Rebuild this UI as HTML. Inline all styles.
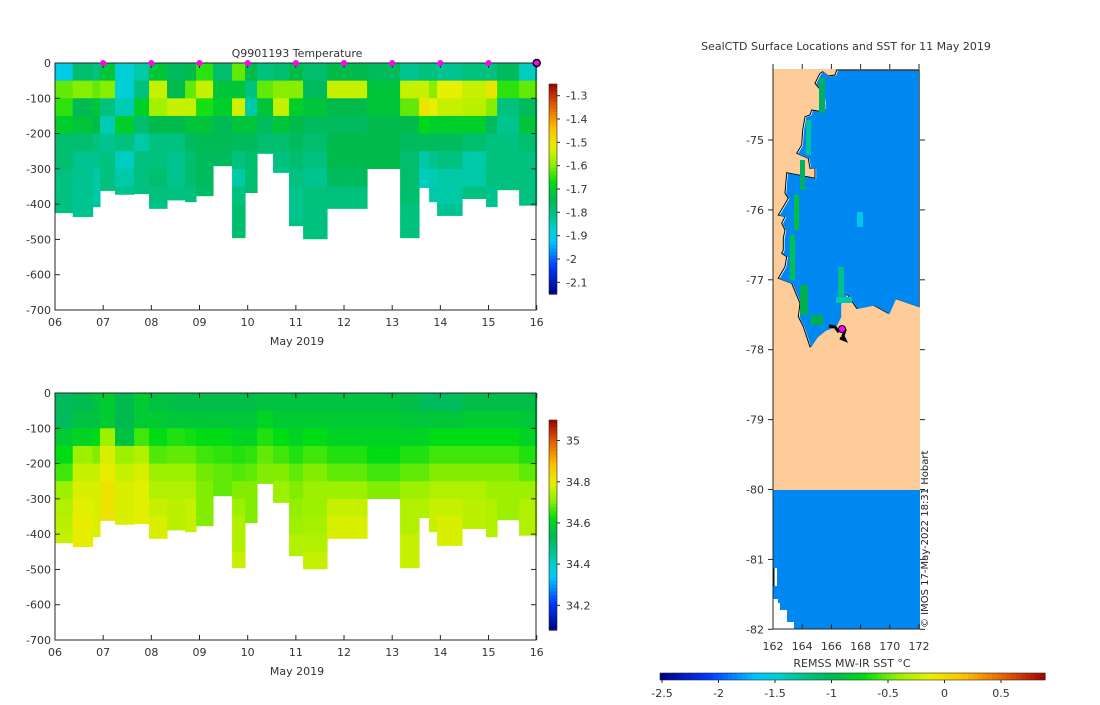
<!DOCTYPE html>
<html><head><meta charset="utf-8"><style>
body{margin:0;background:#fff;}
svg text{font-family:"DejaVu Sans","Liberation Sans",sans-serif;font-size:11px;fill:#333;}
</style></head><body>
<svg id="s" width="1100" height="700" xmlns="http://www.w3.org/2000/svg"></svg>
<script>
// ---------- DATA ----------
const colDays = [6,6.368,6.783,6.935,7.246,7.641,7.952,8.326,8.7,8.928,9.281,9.676,9.946,10.195,10.527,10.859,11.15,11.648,12.479,13.164,13.558,13.766,13.932,14.451,14.949,15.178,15.635,16];
const maxDepth = [424,435,407,361,372,370,412,388,393,376,291,495,367,256,310,461,498,412,299,495,353,393,432,384,407,359,403];
const layerEdges = [0,50,100,150,200,250,300,350,400,450,500];
const tempCols = [
[-1.9,-1.62,-1.65,-1.7,-1.78,-1.78,-1.8,-1.8,-1.8],
[-1.78,-1.6,-1.75,-1.72,-1.78,-1.82,-1.82,-1.82,-1.82],
[-1.8,-1.62,-1.72,-1.74,-1.8,-1.82,-1.84,-1.84,-1.82],
[-1.72,-1.6,-1.8,-1.85,-1.82,-1.8,-1.8,-1.8],
[-1.88,-1.88,-1.85,-1.7,-1.8,-1.86,-1.84,-1.82],
[-1.84,-1.8,-1.7,-1.78,-1.84,-1.8,-1.8,-1.8],
[-1.72,-1.55,-1.58,-1.74,-1.8,-1.8,-1.78,-1.8,-1.82],
[-1.76,-1.74,-1.55,-1.74,-1.8,-1.82,-1.82,-1.8],
[-1.74,-1.62,-1.55,-1.72,-1.76,-1.78,-1.78,-1.8],
[-1.65,-1.55,-1.66,-1.72,-1.75,-1.76,-1.76,-1.77],
[-1.78,-1.72,-1.7,-1.75,-1.75,-1.76],
[-1.62,-1.72,-1.54,-1.72,-1.76,-1.8,-1.84,-1.8,-1.78,-1.78],
[-1.74,-1.8,-1.84,-1.72,-1.76,-1.78,-1.78,-1.78],
[-1.8,-1.62,-1.72,-1.76,-1.78,-1.8],
[-1.78,-1.6,-1.55,-1.72,-1.78,-1.8,-1.82],
[-1.74,-1.6,-1.7,-1.74,-1.76,-1.78,-1.8,-1.82,-1.82,-1.8],
[-1.78,-1.76,-1.72,-1.76,-1.78,-1.8,-1.82,-1.8,-1.8,-1.8],
[-1.74,-1.55,-1.74,-1.76,-1.74,-1.74,-1.76,-1.8,-1.8],
[-1.76,-1.72,-1.72,-1.74,-1.74,-1.74,-1.8],
[-1.82,-1.55,-1.62,-1.74,-1.76,-1.78,-1.78,-1.78,-1.8,-1.8],
[-1.8,-1.55,-1.5,-1.68,-1.76,-1.84,-1.86,-1.86],
[-1.8,-1.6,-1.52,-1.7,-1.76,-1.82,-1.85,-1.84],
[-1.82,-1.52,-1.55,-1.7,-1.76,-1.8,-1.84,-1.84,-1.82],
[-1.8,-1.55,-1.56,-1.7,-1.78,-1.84,-1.84,-1.8],
[-1.8,-1.5,-1.6,-1.76,-1.8,-1.8,-1.8,-1.82,-1.82],
[-1.76,-1.65,-1.8,-1.82,-1.8,-1.8,-1.8,-1.8],
[-1.86,-1.62,-1.76,-1.72,-1.78,-1.8,-1.8,-1.8,-1.8]];
const salCols = [
[34.52,34.52,34.58,34.62,34.66,34.72,34.74,34.75,34.76],
[34.54,34.56,34.6,34.72,34.76,34.78,34.79,34.8,34.8],
[34.56,34.56,34.62,34.7,34.76,34.78,34.78,34.78,34.78],
[34.58,34.58,34.72,34.78,34.8,34.82,34.82,34.82],
[34.54,34.54,34.56,34.72,34.76,34.78,34.78,34.78],
[34.58,34.58,34.66,34.74,34.78,34.79,34.79,34.79],
[34.56,34.58,34.62,34.67,34.72,34.74,34.76,34.78,34.78],
[34.55,34.57,34.64,34.68,34.72,34.74,34.75,34.75],
[34.55,34.57,34.63,34.68,34.72,34.74,34.76,34.76],
[34.55,34.57,34.62,34.66,34.69,34.7,34.7,34.7],
[34.55,34.57,34.62,34.65,34.68,34.68],
[34.55,34.57,34.6,34.64,34.67,34.7,34.72,34.74,34.74,34.76],
[34.55,34.57,34.6,34.65,34.68,34.7,34.7,34.7],
[34.56,34.6,34.64,34.68,34.7,34.7],
[34.56,34.58,34.62,34.66,34.7,34.72,34.72],
[34.56,34.58,34.6,34.64,34.68,34.7,34.71,34.72,34.74,34.74],
[34.56,34.58,34.62,34.66,34.7,34.72,34.72,34.73,34.74,34.76],
[34.56,34.58,34.6,34.64,34.68,34.72,34.76,34.78,34.78],
[34.56,34.58,34.6,34.62,34.66,34.7,34.72],
[34.55,34.57,34.6,34.64,34.68,34.72,34.74,34.74,34.76,34.76],
[34.52,34.57,34.6,34.64,34.68,34.72,34.74,34.74],
[34.52,34.57,34.62,34.66,34.7,34.74,34.76,34.76],
[34.52,34.57,34.62,34.66,34.7,34.74,34.76,34.78,34.78],
[34.55,34.58,34.62,34.66,34.7,34.74,34.75,34.75],
[34.55,34.58,34.62,34.66,34.7,34.72,34.74,34.74,34.74],
[34.55,34.58,34.62,34.66,34.7,34.72,34.72,34.72],
[34.55,34.57,34.6,34.64,34.68,34.72,34.74,34.74,34.74]];
const markerDays = [7,8,9,10,11,12,13,14,15];
const dayTicks = ["06","07","08","09","10","11","12","13","14","15","16"];
const depthTicks = [0,-100,-200,-300,-400,-500,-600,-700];
const tempBarTicks = [-1.3,-1.4,-1.5,-1.6,-1.7,-1.8,-1.9,-2,-2.1];
const salBarTicks = [35,34.8,34.6,34.4,34.2];
const lonTicks = [162,164,166,168,170,172];
const latTicks = [-75,-76,-77,-78,-79,-80,-81,-82];
const sstTicks = [-2.5,-2,-1.5,-1,-0.5,0,0.5];

// ---------- helpers ----------
const NS="http://www.w3.org/2000/svg", S=document.getElementById('s');
function mk(tag,at,parent){const e=document.createElementNS(NS,tag);for(const k in at)e.setAttribute(k,at[k]);(parent||S).appendChild(e);return e;}
function txt(x,y,s,anchor,extra){const t=mk('text',Object.assign({x:x,y:y,'text-anchor':anchor||'start'},extra||{}));t.textContent=s;return t;}
const stops=[[0,[0,0,130]],[0.13,[0,60,255]],[0.25,[0,200,255]],[0.31,[0,208,205]],[0.37,[0,195,140]],[0.45,[0,185,80]],[0.53,[0,220,20]],[0.62,[150,240,0]],[0.7,[230,240,0]],[0.79,[255,190,0]],[0.9,[225,90,0]],[1,[160,0,0]]];
function cmap(t){t=Math.max(0,Math.min(1,t));for(let i=1;i<stops.length;i++){if(t<=stops[i][0]){const a=stops[i-1],b=stops[i],f=(t-a[0])/(b[0]-a[0]);return 'rgb('+a[1].map((v,j)=>Math.round(v+(b[1][j]-v)*f)).join(',')+')';}}return 'rgb(160,0,0)';}

function section(yTop,vals,vmin,vmax,prefix){
  const xs=d=>55+(d-6)*48.17, ys=m=>yTop+m*(247/700);
  const g=mk('g',{});
  
  
  for(let c=0;c<vals.length;c++){
    const x0=xs(colDays[c]),x1=xs(colDays[c+1]);
    for(let l=0;l<vals[c].length;l++){
      const d0=layerEdges[l],d1=Math.min(layerEdges[l+1],maxDepth[c]);
      if(d1<=d0)continue;
      const r=mk('rect',{x:x0,y:ys(d0),width:x1-x0+0.5,height:ys(d1)-ys(d0)+0.5,fill:cmap((vals[c][l]-vmin)/(vmax-vmin))},g);
      
      
    }
  }
  const bx=mk('rect',{x:55,y:yTop,width:481,height:247,fill:'none',stroke:'#262626','stroke-width':1});
  
  
  depthTicks.forEach(v=>{const y=ys(-v);mk('line',{x1:55,x2:60,y1:y,y2:y,stroke:'#262626'});mk('line',{x1:531,x2:536,y1:y,y2:y,stroke:'#262626'});
    const t=txt(51,y+4,String(v),'end');});
  dayTicks.forEach((s,i)=>{const x=xs(6+i);mk('line',{x1:x,x2:x,y1:yTop+247,y2:yTop+242,stroke:'#262626'});mk('line',{x1:x,x2:x,y1:yTop,y2:yTop+5,stroke:'#262626'});
    const t=txt(x,yTop+263,s,'middle');});
  const xl=txt(297,yTop+282,'May 2019','middle');
  return xs;
}
function colorbar(x,y0,y1,vmin,vmax,ticks,prefix){
  const n=60,h=(y1-y0)/n;
  for(let i=0;i<n;i++){const r=mk('rect',{x:x,y:y0+i*h,width:8,height:h+0.6,fill:cmap(1-(i+0.5)/n)});
    }
  mk('rect',{x:x,y:y0,width:8,height:y1-y0,fill:'none',stroke:'#262626','stroke-width':0.6});
  ticks.forEach(v=>{const y=y1-(v-vmin)/(vmax-vmin)*(y1-y0);mk('line',{x1:x+8,x2:x+11,y1:y,y2:y,stroke:'#262626'});
    const t=txt(x+17,y+4,String(v));});
}

// ---------- temperature ----------
const xsT=section(63,tempCols,-2.15,-1.25,'temperature');
const tt=txt(297,57,'Q9901193  Temperature','middle');
markerDays.forEach(d=>{const c=mk('circle',{cx:xsT(d),cy:63,r:3,fill:'#ff00ff'});});
const lm=mk('circle',{cx:xsT(16),cy:63,r:3.5,fill:'#ff00ff',stroke:'#000','stroke-width':1.5});
colorbar(549,84,294,-2.15,-1.25,tempBarTicks,'temperature');

// ---------- salinity ----------
section(393,salCols,34.08,35.1,'salinity');
colorbar(549,420,630,34.08,35.1,salBarTicks,'salinity');

// ---------- map ----------
const mx=lon=>773+(lon-162)*14.6, my=lat=>140+(-75-lat)*69.9;
const mt=txt(846,50,'SealCTD Surface Locations and SST for 11 May 2019','middle');
const land=mk('rect',{x:773,y:69,width:147,height:421,fill:'#fdcc99'});
const zp=[[290,60],[285,75],[265,78],[248,65],[240,70],[225,100],[250,130],[255,170],[245,185],[215,180],[210,195],[195,200],[188,240],[185,285],[170,310],[205,325],[210,355],[225,355],[225,385],[140,368],[135,430],[145,445],[130,470],[115,495],[135,500],[125,520],[135,540],[130,565],[130,600],[125,610],[140,620],[135,650],[115,685],[155,700],[180,760],[175,800],[190,830],[210,890],[230,860],[255,840],[285,830],[300,800],[300,760],[320,730],[350,775],[400,765],[445,790],[465,745],[537,770],[537,60]];
const pts=zp.map(p=>(740+p[0]/3).toFixed(1)+','+(50+p[1]/3).toFixed(1)).join(' ');
const wp=mk('polygon',{points:pts,fill:'#fff',stroke:'#000','stroke-width':1});
const oc=mk('polygon',{points:zp.map(p=>(Math.min(919,740+p[0]/3+1.2)).toFixed(1)+','+(50+p[1]/3+0.6).toFixed(1)).join(' '),fill:'#0088f2'});
[[819,78,6,35,'#00b060'],[806,120,5,35,'#00c0a0'],[800,160,5,30,'#00b060'],[794,195,5,35,'#00c040'],[790,235,5,45,'#00c050'],[800,285,8,30,'#00b050'],[811,315,12,10,'#00b050'],[836,297,16,6,'#00c8b0'],[838,267,6,30,'#00c090'],[857,212,6,15,'#00c8e0']].forEach(r=>{
  const e=mk('rect',{x:r[0],y:r[1],width:r[2],height:r[3],fill:r[4]});});
const so=mk('rect',{x:773,y:490,width:147,height:139,fill:'#0088f2'});
[[773,568,4,18],[773,599,5,30],[778,603,2,26],[780,610,7,19],[787,622,7,7]].forEach(r=>mk('rect',{x:r[0],y:r[1],width:r[2],height:r[3],fill:'#fff'}));
mk('line',{x1:774,x2:774,y1:568,y2:586,stroke:'#000','stroke-width':1});
const tr=mk('path',{d:'M829,326 L835,327 L838,331 L842,328 L845,330 L843,336 L845,340 L840,338',fill:'none',stroke:'#000','stroke-width':3});
const sd=mk('circle',{cx:842,cy:329,r:3.5,fill:'#ff00ff',stroke:'#000','stroke-width':1});
mk('line',{x1:773,x2:773,y1:69,y2:629,stroke:'#262626'});mk('line',{x1:773,x2:920,y1:629,y2:629,stroke:'#262626'});
lonTicks.forEach(v=>{const x=mx(v);mk('line',{x1:x,x2:x,y1:629,y2:624,stroke:'#262626'});mk('line',{x1:x,x2:x,y1:64,y2:69,stroke:'#262626'});
  const t=txt(x,650,String(v),'middle');});
latTicks.forEach(v=>{const y=my(v);mk('line',{x1:768,x2:773,y1:y,y2:y,stroke:'#262626'});mk('line',{x1:920,x2:925,y1:y,y2:y,stroke:'#262626'});
  const t=txt(764,y+4,String(v),'end');});
const cr=txt(0,0,'© IMOS 17-May-2022 18:31 Hobart','start',{transform:'translate(928,628) rotate(-90)',style:'font-size:10px;fill:#222'});

// SST colorbar
const sx=v=>662+(v+2.5)*113;
for(let i=0;i<80;i++){const x0=660+i*385/80;const e=mk('rect',{x:x0,y:673,width:385/80+0.6,height:7,fill:cmap((i+0.5)/80)});}
mk('rect',{x:660,y:673,width:385,height:7,fill:'none',stroke:'#262626','stroke-width':0.6});
sstTicks.forEach(v=>{const x=sx(v);mk('line',{x1:x,x2:x,y1:680,y2:683,stroke:'#262626'});const t=txt(x,697,String(v),'middle');});
const st=txt(852,667,'REMSS MW-IR SST °C','middle');
</script>
</body></html>
